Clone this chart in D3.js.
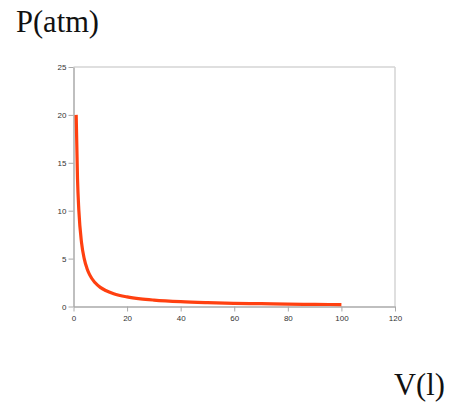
<!DOCTYPE html>
<html>
<head>
<meta charset="UTF-8">
<script src="https://cdnjs.cloudflare.com/ajax/libs/d3/7.8.5/d3.min.js"></script>
<style>
  body { margin: 0; background: #fff; }
  .tick text { font-family: "Liberation Sans", Arial, sans-serif; font-size: 8px; fill: #333; }
  .big { font-family: "Liberation Serif", "Times New Roman", serif; font-size: 30.5px; fill: #111; }
</style>
</head>
<body>
<svg width="451" height="403"></svg>
<script>
// volume (l) and pressure (atm)
let volume   = [1, 1.5, 2, 3, 4, 5, 6, 8, 10, 12, 15, 20, 25, 30, 40, 50, 60, 70, 80, 90, 100];
let pressure = [20, 13.3, 10, 6.67, 5, 4, 3.33, 2.5, 2, 1.67, 1.33, 1, 0.8, 0.67, 0.5, 0.4, 0.33, 0.29, 0.25, 0.22, 0.2];
let xTicks = [0, 20, 40, 60, 80, 100, 120];
let yTicks = [0, 5, 10, 15, 20, 25];

let svg = d3.select("svg");
let pLeft = 73.5, pRight = 395, pTop = 67, pBottom = 306.5;

let x = d3.scaleLinear().domain([0, 120]).range([pLeft, pRight]);
let y = d3.scaleLinear().domain([0, 25]).range([pBottom, pTop]);

// frame: light top and right edges
svg.append("line").attr("x1", pLeft).attr("x2", pRight).attr("y1", pTop).attr("y2", pTop)
    .attr("stroke", "#d4d4d4").attr("stroke-width", 1.5);
svg.append("line").attr("x1", pRight).attr("x2", pRight).attr("y1", pTop).attr("y2", pBottom)
    .attr("stroke", "#d4d4d4").attr("stroke-width", 1.5);

let xAxis = svg.append("g").attr("transform", "translate(0," + pBottom + ")")
    .call(d3.axisBottom(x).tickValues(xTicks).tickSize(5).tickSizeOuter(0).tickPadding(4));
let yAxis = svg.append("g").attr("transform", "translate(" + pLeft + ",0)")
    .call(d3.axisLeft(y).tickValues(yTicks).tickSize(5).tickSizeOuter(0).tickPadding(2));
[xAxis, yAxis].forEach(function(a) {
    a.select(".domain").attr("stroke", "#aaa").attr("stroke-width", 1.5);
    a.selectAll(".tick line").attr("stroke", "#aaa");
});

let line = d3.line()
    .x(function(d, i) { return x(volume[i]); })
    .y(function(d) { return y(d); })
    .curve(d3.curveMonotoneX);

svg.append("path").datum(pressure)
    .attr("d", line)
    .attr("fill", "none")
    .attr("stroke", "#ff4010")
    .attr("stroke-width", 3.2);

svg.append("text").attr("class", "big").attr("x", 16).attr("y", 32).text("P(atm)");
svg.append("text").attr("class", "big").attr("x", 394).attr("y", 395).text("V(l)");
</script>
</body>
</html>
